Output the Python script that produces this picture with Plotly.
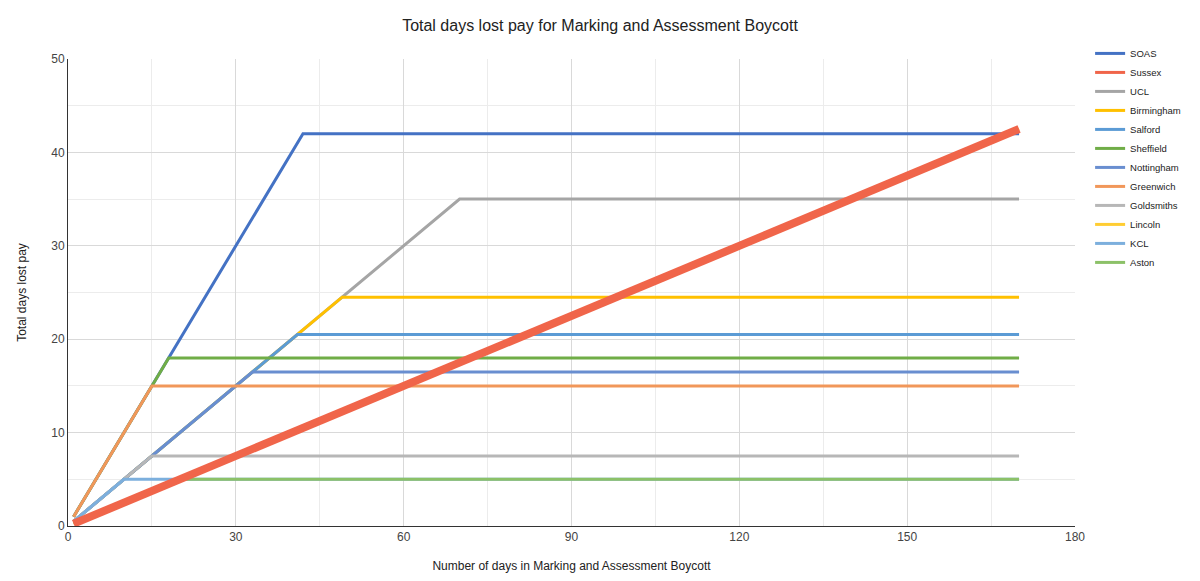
import plotly.graph_objects as go

names = ["SOAS", "Sussex", "UCL", "Birmingham", "Salford", "Sheffield",
         "Nottingham", "Greenwich", "Goldsmiths", "Lincoln", "KCL", "Aston"]
colors = ["#4472C4", "#F0654A", "#A5A5A5", "#FFC000", "#5B9BD5", "#70AD47",
          "#698ED0", "#F1975A", "#B7B7B7", "#FFCD33", "#7CAFDD", "#8CC168"]

# breakpoints (day, days lost)
x_data = {
    "SOAS": [1, 42, 170],
    "Sussex": [1, 170],
    "UCL": [1, 70, 170],
    "Birmingham": [1, 49, 170],
    "Salford": [1, 41, 170],
    "Sheffield": [1, 18, 170],
    "Nottingham": [1, 33, 170],
    "Greenwich": [1, 15, 170],
    "Goldsmiths": [1, 15, 170],
    "Lincoln": [1, 170],
    "KCL": [1, 10, 170],
    "Aston": [1, 20, 170],
}
y_data = {
    "SOAS": [1, 42, 42],
    "Sussex": [0.25, 42.5],
    "UCL": [0.5, 35, 35],
    "Birmingham": [0.5, 24.5, 24.5],
    "Salford": [0.5, 20.5, 20.5],
    "Sheffield": [1, 18, 18],
    "Nottingham": [0.5, 16.5, 16.5],
    "Greenwich": [1, 15, 15],
    "Goldsmiths": [0.5, 7.5, 7.5],
    "Lincoln": [0.25, 42.5],
    "KCL": [0.5, 5, 5],
    "Aston": [0.25, 5, 5],
}

fig = go.Figure()
# legend entries (uniform line samples, in original order)
for i, n in enumerate(names):
    fig.add_trace(go.Scatter(
        x=[None], y=[None], mode="lines", name=n,
        line=dict(color=colors[i], width=3), legendrank=i + 1,
        hoverinfo="skip",
    ))
# data lines, Sussex drawn on top
order = [n for n in names if n != "Sussex"] + ["Sussex"]
for n in order:
    i = names.index(n)
    fig.add_trace(go.Scatter(
        x=x_data[n], y=y_data[n], mode="lines", name=n, showlegend=False,
        line=dict(color=colors[i], width=8 if n == "Sussex" else 3),
    ))

fig.update_layout(
    width=1200, height=581,
    margin=dict(l=68, r=125, t=59, b=55),
    paper_bgcolor="white", plot_bgcolor="white",
    font=dict(family="Liberation Sans, Arial, sans-serif", color="#222"),
    title=dict(text="Total days lost pay for Marking and Assessment Boycott",
               x=0.5, xanchor="center", y=0.957, yanchor="middle",
               font=dict(size=16, color="#222")),
    legend=dict(x=1.015, y=1.043, xanchor="left", yanchor="top",
                font=dict(size=9.5, color="#222"), itemwidth=30,
                tracegroupgap=0, bgcolor="rgba(0,0,0,0)"),
    showlegend=True,
)
fig.update_xaxes(
    range=[0, 180], tickvals=[0, 30, 60, 90, 120, 150, 180],
    showgrid=True, gridcolor="#d9d9d9", gridwidth=1,
    minor=dict(dtick=15, tick0=0, showgrid=True, gridcolor="#ececec"),
    showline=True, linecolor="#333", linewidth=1, zeroline=False,
    ticks="", tickfont=dict(size=12, color="#444"), automargin=False,
    title=dict(text="Number of days in Marking and Assessment Boycott",
               font=dict(size=12, color="#222"), standoff=18),
)
fig.update_yaxes(
    range=[0, 50], tickvals=[0, 10, 20, 30, 40, 50],
    showgrid=True, gridcolor="#d9d9d9", gridwidth=1,
    minor=dict(dtick=5, tick0=0, showgrid=True, gridcolor="#ececec"),
    showline=True, linecolor="#333", linewidth=1, zeroline=False,
    ticks="", tickfont=dict(size=12, color="#444"), automargin=False,
    title=dict(text="Total days lost pay", font=dict(size=12, color="#222"),
               standoff=22),
)

fig.write_html("out.html")
